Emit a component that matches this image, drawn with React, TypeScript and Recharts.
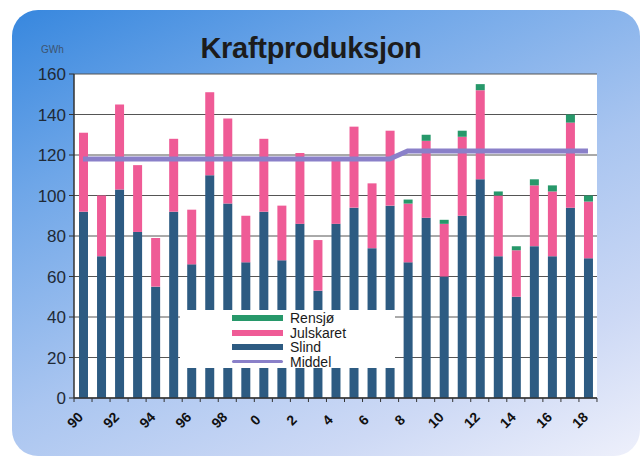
import React from 'react';
import { ComposedChart, Bar, Line, XAxis, YAxis, CartesianGrid, Legend, Text } from 'recharts';

const years = ['90','91','92','93','94','95','96','97','98','99','0','1','2','3','4','5','6','7','8','9','10','11','12','13','14','15','16','17','18'];
const slind = [92,70,103,82,55,92,66,110,96,67,92,68,86,53,86,94,74,95,67,89,60,90,108,70,50,75,70,94,69];
const julskaret = [39,30,42,33,24,36,27,41,42,23,36,27,35,25,32,40,32,37,29,38,26,39,44,30,23,30,32,42,28];
const rensjo = [0,0,0,0,0,0,0,0,0,0,0,0,0,0,0,0,0,0,2,3,2,3,3,2,2,3,3,4,3];
const middel = [118,118,118,118,118,118,118,118,118,118,118,118,118,118,118,118,118,118,122,122,122,122,122,122,122,122,122,122,122];
const yTicks = [0,20,40,60,80,100,120,140,160];

const seriesNames = ['Rensjø','Julskaret','Slind','Middel'];
const seriesColors = ['#27986a','#ef5b96','#2d5b82','#8a80c9'];

const data = years.map((y, i) => ({
  year: y,
  Slind: slind[i],
  Julskaret: julskaret[i],
  'Rensjø': rensjo[i],
  Middel: middel[i],
}));

const FONT = '"Liberation Sans", Arial, sans-serif';

const renderXTick = (props: any) => {
  const { x, y, payload, index } = props;
  const half = 9;
  const cx = x - 8;
  const cy = y + 22;
  return (
    <g key={`t-${index}`}>
      <line x1={x + half} x2={x + half} y1={y} y2={y + 4} stroke="#333" strokeWidth={1} />
      {index === 0 && <line x1={x - half} x2={x - half} y1={y} y2={y + 4} stroke="#333" strokeWidth={1} />}
      {index % 2 === 0 && (
        <Text
          x={cx}
          y={cy}
          angle={-45}
          textAnchor="middle"
          verticalAnchor="middle"
          fontFamily={FONT}
          fontWeight="bold"
          fontSize={14}
          fill="#111"
        >
          {String(payload.value)}
        </Text>
      )}
    </g>
  );
};

const LegendContent = () => (
  <div style={{ width: 215, height: 58, background: '#fff', position: 'relative', fontFamily: FONT }}>
    {seriesNames.map((n, i) => (
      <div key={n} style={{ position: 'absolute', left: 0, top: 1 + i * 14.5, height: 14, width: 215 }}>
        <div
          style={{
            position: 'absolute',
            left: 52,
            top: i === 3 ? 5.5 : 4,
            width: 51,
            height: i === 3 ? 3 : 6,
            background: seriesColors[i],
            borderRadius: i === 3 ? 2 : 0,
          }}
        />
        <div style={{ position: 'absolute', left: 110, top: -1, fontSize: 14, color: '#1a1a1a', lineHeight: '16px' }}>{n}</div>
      </div>
    ))}
  </div>
);

export default function App() {
  return (
    <div style={{ position: 'absolute', left: 0, top: 0, width: 640, height: 462, background: '#fff', overflow: 'hidden' }}>
      <div
        style={{
          position: 'absolute',
          left: 12,
          top: 10,
          width: 628,
          height: 446,
          borderRadius: 26,
          background: 'linear-gradient(155deg, #3787de 0%, #6ea6e8 25%, #a9c5f0 55%, #cdd9f5 80%, #eef0fb 100%)',
        }}
      />
      <div
        style={{
          position: 'absolute',
          left: 0,
          width: 622,
          top: 32,
          textAlign: 'center',
          fontFamily: FONT,
          fontWeight: 'bold',
          fontSize: 29,
          color: '#1c1c1c',
          letterSpacing: -0.3,
        }}
      >
        Kraftproduksjon
      </div>
      <div style={{ position: 'absolute', left: 41, top: 44, fontFamily: FONT, fontSize: 10, color: '#3d5470' }}>GWh</div>
      <div style={{ position: 'absolute', left: 0, top: 0 }}>
        <ComposedChart width={640} height={462} data={data} margin={{ top: 74, right: 43, bottom: 0, left: 0 }}>
          <CartesianGrid horizontal vertical={false} fill="#ffffff" stroke="#555" strokeWidth={1} />
          <XAxis
            dataKey="year"
            interval={0}
            height={64}
            tickLine={false}
            tickSize={0}
            tickMargin={0}
            axisLine={{ stroke: '#333', strokeWidth: 1.5 }}
            tick={renderXTick}
          />
          <YAxis
            domain={[0, 160]}
            ticks={yTicks}
            width={74}
            tickSize={5}
            tickMargin={3}
            tickLine={{ stroke: '#333' }}
            axisLine={{ stroke: '#333', strokeWidth: 1.5 }}
            tick={{ fontFamily: FONT, fontSize: 17, fill: '#1f2a36' }}
          />
          <YAxis yAxisId="r" orientation="right" width={0} tick={false} tickLine={false} axisLine={{ stroke: '#888', strokeWidth: 1.5 }} />
          <Bar dataKey="Slind" stackId="a" fill={seriesColors[2]} barSize={9} isAnimationActive={false} />
          <Bar dataKey="Julskaret" stackId="a" fill={seriesColors[1]} barSize={9} isAnimationActive={false} />
          <Bar dataKey="Rensjø" stackId="a" fill={seriesColors[0]} barSize={9} isAnimationActive={false} />
          <Line dataKey="Middel" type="linear" stroke={seriesColors[3]} strokeWidth={5} dot={false} isAnimationActive={false} />
          <Legend
            layout="vertical"
            align="center"
            verticalAlign="middle"
            content={<LegendContent />}
            wrapperStyle={{ left: 180, top: 310, width: 215, height: 58 }}
          />
        </ComposedChart>
      </div>
    </div>
  );
}
